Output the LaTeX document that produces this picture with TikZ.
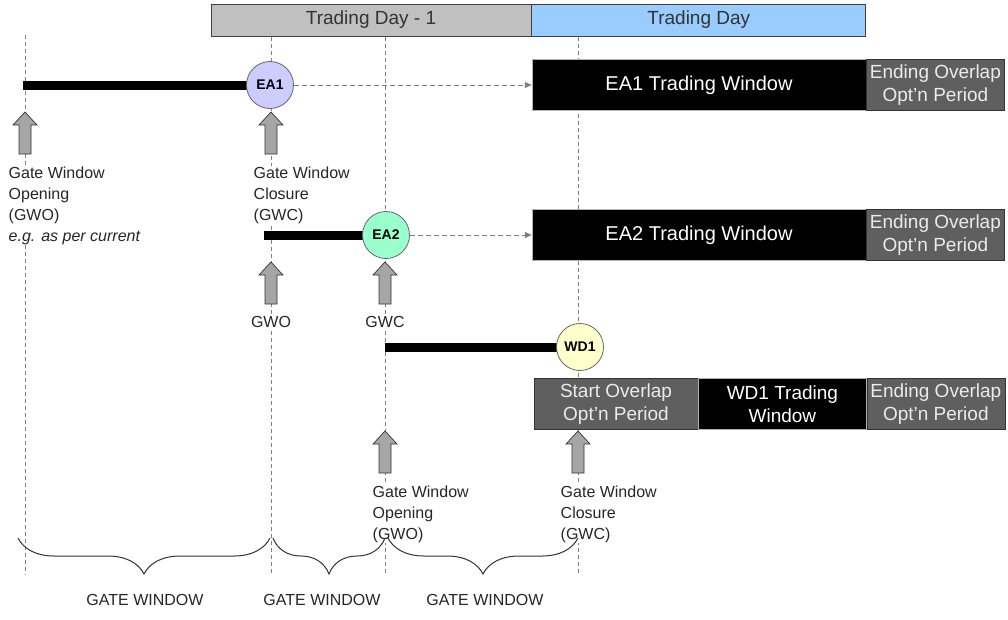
\documentclass[tikz,border=0pt]{standalone}
\usepackage{fontspec}
\setmainfont{Liberation Sans}
\usetikzlibrary{positioning,decorations.pathreplacing,arrows.meta}
\definecolor{daygrey}{HTML}{C0C0C0}
\definecolor{dayblue}{HTML}{99CCFF}
\definecolor{eaone}{HTML}{CCCCFF}
\definecolor{eatwo}{HTML}{99FFCC}
\definecolor{wdone}{HTML}{FFFFCC}
\definecolor{optgrey}{HTML}{5F5F5F}
\definecolor{arrgrey}{HTML}{A6A6A6}
\tikzset{
  guide/.style={draw=gray, line width=0.7pt, dash pattern=on 4pt off 3pt},
  gatebar/.style={line width=9pt},
  event/.style={circle, draw=gray!80!black, line width=0.8pt, inner sep=0pt, minimum size=47pt, font=\bfseries\fontsize{14}{14}\selectfont},
  dayhead/.style={draw=black!75, line width=0.8pt, minimum height=32pt, text=black!80, font=\fontsize{19}{19}\selectfont},
  window/.style={fill=black, draw=gray!60, text=white, minimum height=51pt, inner sep=0pt, align=center, font=\fontsize{20}{23}\selectfont},
  optin/.style={fill=optgrey, draw=black!80, text=white!92!black, minimum height=51pt, inner sep=0pt, align=center, font=\fontsize{19}{23}\selectfont},
  note/.style={anchor=north west, fill=white, inner sep=0.5pt, align=left, text=black!85, font=\fontsize{16}{21}\selectfont},
  tag/.style={fill=white, inner sep=1pt, text=black!85, font=\fontsize{16}{16}\selectfont},
  flow/.style={gray, line width=1pt, dash pattern=on 5pt off 3pt, -{Triangle[length=7pt,width=6pt]}},
  gatearrow/.style={fill=arrgrey, draw=gray!40!black, line width=0.7pt},
  span/.style={draw=black!80, line width=1pt, decorate, decoration={brace, mirror, amplitude=36pt}}
}
\begin{document}
\begin{tikzpicture}[x=1pt,y=-1pt]
\useasboundingbox (0,0) rectangle (1008,619);
% guides
\foreach \x/\a in {25/35,271/37,385/37,578/37}
  \draw[guide] (\x,\a) -- (\x,575);
% days
\node[dayhead, fill=daygrey, minimum width=320pt] (dayprev) at (371,20) {Trading Day - 1};
\node[dayhead, fill=dayblue, minimum width=334pt, right=0pt of dayprev] (dayone) {Trading Day};
% gate windows
\path
(23,85) coordinate (ea1open)
(270,85) coordinate (ea1at)
(264,235) coordinate (ea2open)
(386,235) coordinate (ea2at)
(385,347) coordinate (wd1open)
(580,347) coordinate (wd1at)
;
\draw[gatebar] (ea1open) -- (ea1at);
\draw[gatebar] (ea2open) -- (ea2at);
\draw[gatebar] (wd1open) -- (wd1at);
\node[event, fill=eaone] (ea1) at (ea1at) {EA1};
\node[event, fill=eatwo] (ea2) at (ea2at) {EA2};
\node[event, fill=wdone] (wd1) at (wd1at) {WD1};
% trading windows
\node[window, minimum width=334pt] (ea1win) at (699,85) {EA1 Trading Window};
\node[optin, minimum width=138pt, right=0pt of ea1win] (ea1end) {Ending Overlap\\Opt’n Period};
\node[window, minimum width=334pt] (ea2win) at (699,235) {EA2 Trading Window};
\node[optin, minimum width=138pt, right=0pt of ea2win] (ea2end) {Ending Overlap\\Opt’n Period};
\node[optin, minimum width=164pt] (wd1start) at (616,404) {Start Overlap\\Opt’n Period};
\node[window, minimum width=168pt, right=0pt of wd1start, font=\fontsize{19}{23}\selectfont] (wd1win) {WD1 Trading\\Window};
\node[optin, minimum width=138pt, right=0pt of wd1win] (wd1end) {Ending Overlap\\Opt’n Period};
\draw[flow] (ea1) -- (ea1win);
\draw[flow] (ea2) -- (ea2win);
% gate arrows
\foreach \x/\y in {25/112,271/112,271/262,385/262,385/431,578/431}
  \filldraw[gatearrow] (\x,\y) -- ++(12,13) -- ++(-6,0) -- ++(0,29) -- ++(-12,0) -- ++(0,-29) -- ++(-6,0) -- cycle;
% labels
\node[note] (gwo1) at (8,166) {Gate Window\\Opening\\(GWO)\\\textit{e.g. as per current}};
\node[note] (gwc1) at (253,166) {Gate Window\\Closure\\(GWC)};
\node[tag] (gwo2) at (271,322) {GWO};
\node[tag] (gwc2) at (385,322) {GWC};
\node[note] (gwo3) at (372,485) {Gate Window\\Opening\\(GWO)};
\node[note] (gwc3) at (560,485) {Gate Window\\Closure\\(GWC)};
% spans
\draw[span] (18,538) -- (270,538);
\draw[span] (273,538) -- (385,538);
\draw[span] (388,538) -- (578,538);
\foreach \x/\n in {145/one,322/two,485/three}
  \node[tag] (span\n) at (\x,600) {GATE WINDOW};
\end{tikzpicture}
\end{document}
